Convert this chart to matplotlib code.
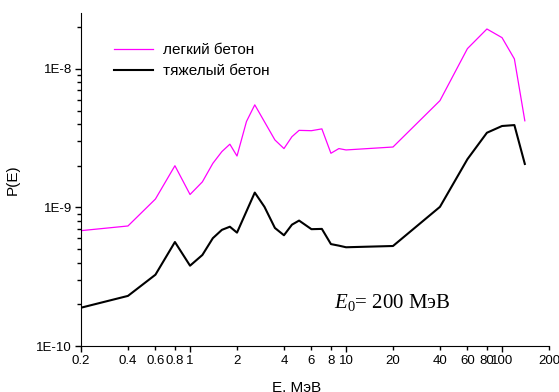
import matplotlib
matplotlib.use('Agg')
import matplotlib.pyplot as plt
from matplotlib.ticker import FixedLocator, FixedFormatter, NullFormatter

plt.rcParams['font.family'] = ['Liberation Sans', 'DejaVu Sans']
plt.rcParams['mathtext.fontset'] = 'custom'
plt.rcParams['mathtext.rm'] = 'Liberation Serif'
plt.rcParams['mathtext.it'] = 'Liberation Serif:italic'

# energy (MeV) and P(E)
e_light = [0.2, 0.4, 0.6, 0.8, 1.0, 1.2, 1.4, 1.6, 1.8, 2.0, 2.3, 2.6, 3.5, 4, 4.5, 5, 6, 7,
           8, 9, 10, 20, 40, 60, 80, 100, 120, 140]
p_light = [6.8e-10, 7.35e-10, 1.15e-9, 2.0e-9, 1.24e-9, 1.53e-9, 2.08e-9, 2.53e-9, 2.86e-9,
           2.35e-9, 4.17e-9, 5.5e-9, 3.07e-9, 2.66e-9, 3.24e-9, 3.6e-9, 3.58e-9, 3.69e-9,
           2.46e-9, 2.66e-9, 2.60e-9, 2.73e-9, 5.9e-9, 1.40e-8, 1.94e-8, 1.68e-8, 1.18e-8, 4.22e-9]

e_heavy = [0.2, 0.4, 0.6, 0.8, 1.0, 1.2, 1.4, 1.6, 1.8, 2.0, 2.6, 3.0, 3.5, 4, 4.5, 5, 6, 7,
           8, 9, 10, 20, 40, 60, 80, 100, 120, 140]
p_heavy = [1.89e-10, 2.30e-10, 3.27e-10, 5.63e-10, 3.80e-10, 4.54e-10, 6.0e-10, 6.89e-10,
           7.26e-10, 6.58e-10, 1.28e-9, 1.01e-9, 7.11e-10, 6.3e-10, 7.51e-10, 8.04e-10,
           6.97e-10, 7.0e-10, 5.44e-10, 5.3e-10, 5.16e-10, 5.27e-10, 1.01e-9, 2.23e-9,
           3.46e-9, 3.87e-9, 3.93e-9, 2.06e-9]

xmajor = [0.2, 1, 10, 100]
xminor = [0.4, 0.6, 0.8, 2, 4, 6, 8, 20, 40, 60, 80, 200]
ymajor = [1e-10, 1e-9, 1e-8]
ylabels = ['1E-10', '1E-9', '1E-8']

fig = plt.figure(figsize=(5.59, 3.92), dpi=100)
ax = fig.add_axes([0.1449, 0.1173, 0.8372, 0.8495])

ax.plot(e_light, p_light, color='#ff00ff', lw=0.9, label='легкий бетон')
ax.plot(e_heavy, p_heavy, color='black', lw=1.5, label='тяжелый бетон')

ax.set_xscale('log')
ax.set_yscale('log')
ax.set_xlim(0.2, 200)
ax.set_ylim(1e-10, 2.53e-8)

ax.spines['top'].set_visible(False)
ax.spines['right'].set_visible(False)

ax.xaxis.set_major_locator(FixedLocator(xmajor))
ax.xaxis.set_major_formatter(FixedFormatter([str(v) if v < 1 else str(int(v)) for v in xmajor]))
ax.xaxis.set_minor_locator(FixedLocator(xminor))
ax.xaxis.set_minor_formatter(FixedFormatter([str(v) if v < 1 else str(int(v)) for v in xminor]))

ax.yaxis.set_major_locator(FixedLocator(ymajor))
ax.yaxis.set_major_formatter(FixedFormatter(ylabels))
ax.yaxis.set_minor_locator(FixedLocator([m * 10.0 ** d for d in (-10, -9, -8) for m in range(2, 10)]))
ax.yaxis.set_minor_formatter(NullFormatter())

ax.tick_params(which='major', direction='out', length=4.5, width=1, labelsize=9.5, pad=2)
ax.tick_params(which='minor', direction='out', length=3, width=1, labelsize=9.5, pad=3.5)

ax.set_xlabel('Е, МэВ', fontsize=11)
ax.xaxis.set_label_coords(0.46, -0.105)
ax.set_ylabel('P(E)', fontsize=11)
ax.yaxis.set_label_coords(-0.13, 0.5)

ax.legend(loc='upper left', bbox_to_anchor=(0.0705, 0.91), frameon=False, fontsize=11,
          handlelength=2.55, handletextpad=0.65, labelspacing=0.45, borderpad=0, borderaxespad=0)

ax.text(0.54, 0.132, r'$E_0$= 200 МэВ', transform=ax.transAxes, fontsize=15,
        family='Liberation Serif', va='center', ha='left')

fig.savefig('out.png', dpi=100)
